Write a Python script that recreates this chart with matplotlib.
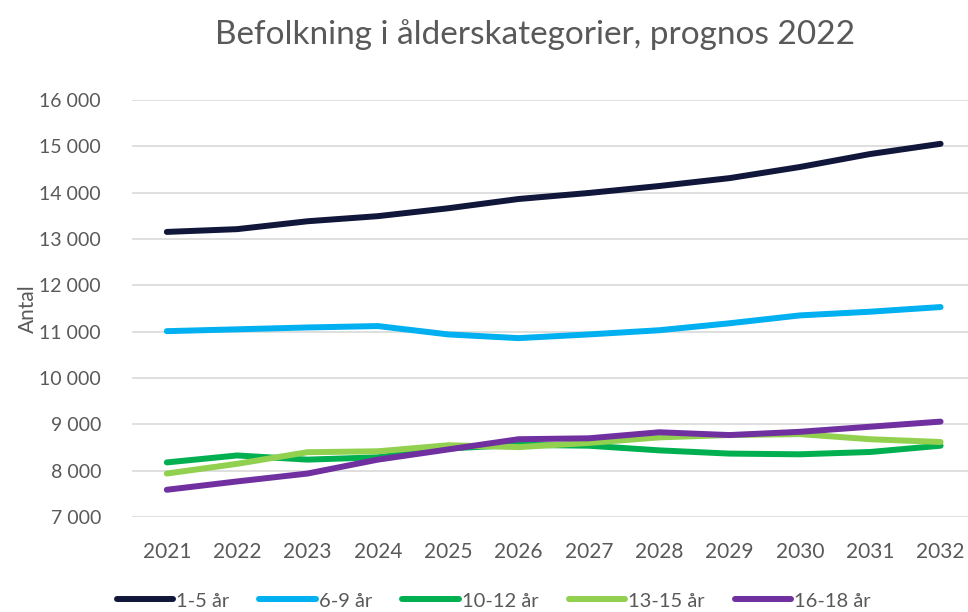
import matplotlib.pyplot as plt
from matplotlib.ticker import FuncFormatter

plt.rcParams['font.family'] = ['Lato', 'DejaVu Sans']

years = [2021, 2022, 2023, 2024, 2025, 2026, 2027, 2028, 2029, 2030, 2031, 2032]
series_names = ['1-5 år', '6-9 år', '10-12 år', '13-15 år', '16-18 år']
age_1_5 = [13150, 13210, 13380, 13490, 13660, 13860, 13990, 14140, 14310, 14550, 14830, 15050]
age_6_9 = [11010, 11050, 11090, 11120, 10940, 10860, 10940, 11030, 11180, 11350, 11430, 11530]
age_10_12 = [8180, 8330, 8240, 8290, 8480, 8560, 8540, 8440, 8370, 8355, 8405, 8540]
age_13_15 = [7940, 8150, 8400, 8420, 8550, 8510, 8600, 8720, 8770, 8790, 8680, 8620]
age_16_18 = [7590, 7770, 7940, 8240, 8460, 8680, 8700, 8830, 8770, 8840, 8950, 9060]

colors = ['#11163b', '#00b0f0', '#00b050', '#92d050', '#7030a0']
grey = '#595959'

fig = plt.figure(figsize=(9.68, 6.12), dpi=100)
ax = fig.add_axes([0.136, 0.155, 0.872, 0.682])

for vals, name, c in zip([age_1_5, age_6_9, age_10_12, age_13_15, age_16_18], series_names, colors):
    ax.plot(years, vals, color=c, linewidth=4.3, solid_capstyle='round',
            solid_joinstyle='round', label=name)

ax.set_xlim(2020.5, 2032.5)
ax.set_ylim(7000, 16000)
ax.set_yticks(range(7000, 16001, 1000))
ax.set_xticks(years)
ax.yaxis.set_major_formatter(FuncFormatter(lambda v, p: f'{int(v):,}'.replace(',', ' ')))
ax.grid(axis='y', color='#d9d9d9', linewidth=1.2)
ax.set_axisbelow(True)
for s in ax.spines.values():
    s.set_visible(False)
ax.tick_params(axis='y', length=0, labelsize=14, colors=grey, pad=22)
ax.tick_params(axis='x', length=0, labelsize=15, colors=grey, pad=18)

ax.set_ylabel('Antal', fontsize=15, color=grey, labelpad=1)
fig.text(0.553, 0.943, 'Befolkning i ålderskategorier, prognos 2022', ha='center', va='center',
         fontsize=24, color=grey)

leg = fig.legend(loc='center', bbox_to_anchor=(0.51, 0.018), ncol=5, frameon=False,
                 fontsize=14.5, handlelength=2.8, handletextpad=0.15, columnspacing=1.5)
for t in leg.get_texts():
    t.set_color(grey)

fig.savefig('out.png', dpi=100)
